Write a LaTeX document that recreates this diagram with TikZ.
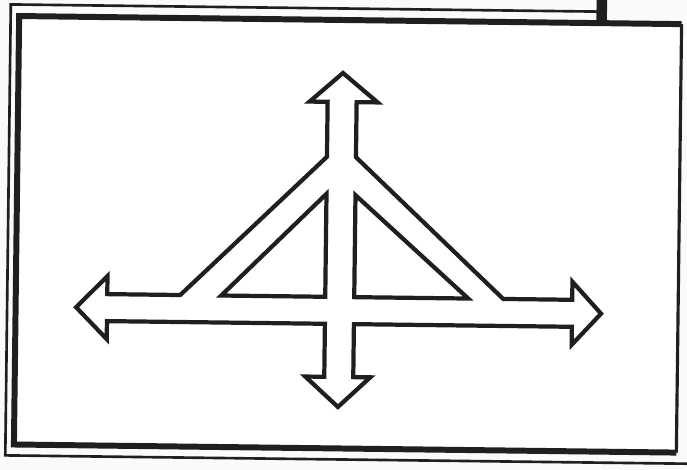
\documentclass[tikz,border=0pt]{standalone}
\usepackage{tikz}

\begin{document}
\begin{tikzpicture}[x=0.02cm, y=-0.02cm,
    ink/.style={draw=black!88, line join=miter},
    thinrule/.style={ink, line width=1.5pt},
    thickrule/.style={ink, line width=3.4pt},
    outline/.style={ink, line width=2.4pt}]
  % page area, the scan is a little skewed
  \clip (0,0) rectangle (687,470);
  \fill[black!2] (0,0) rectangle (687,470);
  \begin{scope}[rotate around={-0.7:(343,235)}]
    % back frame
    \draw[thinrule] (599,8.5) -- (8,8.5) -- (8,459.5) -- (720,459.5);
    \draw[ink, line width=6pt] (599,-12) -- (599,20);
    % front frame: thick left, top and bottom, thin right
    \fill[white] (16.5,20) rectangle (679,448.5);
    \draw[thickrule] (679,20) -- (16.5,20) -- (16.5,448.5) -- (679,448.5);
    \draw[ink, line width=1.8pt] (679,20) -- (679,448.5);
    % hollow arrows: up, right, down, left, joined by the two slanted bands
    \draw[outline] (341,73) -- (376,102) -- (355,102) -- (355,157)
      -- (504,297) -- (573,297) -- (573,279) -- (602,310.5) -- (573,342)
      -- (573,324) -- (355,324) -- (355,377) -- (372,377) -- (340,407)
      -- (307,377) -- (326,377) -- (326,324) -- (108,324) -- (108,342)
      -- (77,310.5) -- (108,279) -- (108,297) -- (181,297) -- (326,157)
      -- (326,102) -- (308,102) -- cycle;
    % the two holes under the slanted bands
    \draw[outline] (326,194) -- (326,297) -- (222,297) -- cycle;
    \draw[outline] (355,195) -- (355,297) -- (469,297) -- cycle;
  \end{scope}
\end{tikzpicture}
\end{document}
